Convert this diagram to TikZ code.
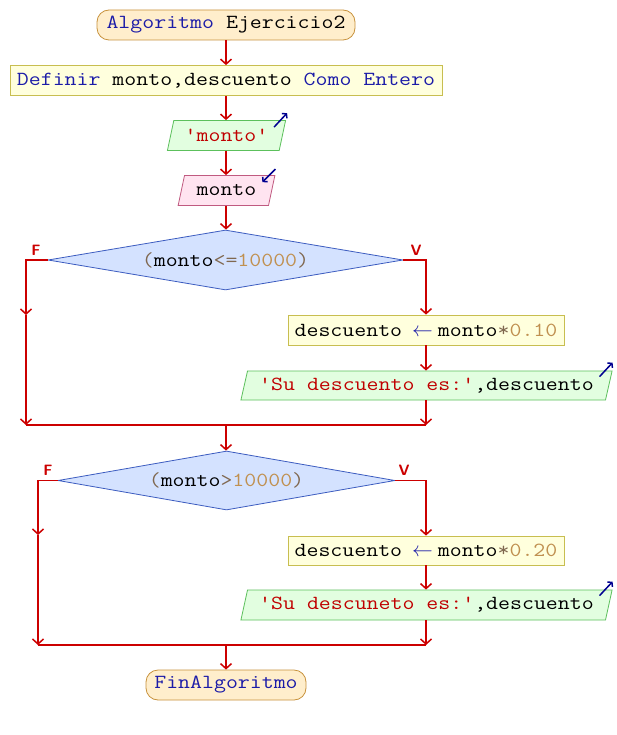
\documentclass[tikz,border=0pt]{standalone}
\usepackage{fontspec}
\setmonofont[FakeStretch=1.16]{Latin Modern Mono}
\usetikzlibrary{shapes.geometric,arrows.meta,calc}
\definecolor{flowred}{HTML}{CC0000}
\definecolor{termfill}{HTML}{FFEECC}
\definecolor{termdraw}{HTML}{C8923C}
\definecolor{procfill}{HTML}{FFFFDD}
\definecolor{procdraw}{HTML}{C8BE50}
\definecolor{outfill}{HTML}{E2FEE0}
\definecolor{outdraw}{HTML}{5CC05C}
\definecolor{infill}{HTML}{FFE4F0}
\definecolor{indraw}{HTML}{C05A80}
\definecolor{decfill}{HTML}{D4E2FF}
\definecolor{decdraw}{HTML}{3C5CC0}
\definecolor{kwcol}{HTML}{1C1CA8}
\definecolor{strcol}{HTML}{C00000}
\definecolor{numcol}{HTML}{C09050}
\definecolor{opcol}{HTML}{806850}
\definecolor{iocol}{HTML}{000090}
\newcommand{\asg}{\hspace{10pt}\textcolor{kwcol}{$\leftarrow$}\hspace{5pt}}
\begin{document}
\begin{tikzpicture}[x=1pt,y=-1pt,
  code/.style={font=\ttfamily\fontsize{20}{20}\selectfont, inner sep=0pt},
  term/.style={code, draw=termdraw, fill=termfill, rounded corners=12pt, minimum height=30pt, line width=0.8pt},
  proc/.style={code, draw=procdraw, fill=procfill, minimum height=29pt, line width=0.8pt},
  io/.style={code, trapezium, trapezium left angle=68, trapezium right angle=112, trapezium stretches=true, minimum height=29pt, line width=0.8pt},
  outbox/.style={io, draw=outdraw, fill=outfill},
  inbox/.style={io, draw=indraw, fill=infill},
  dec/.style={code, diamond, aspect=6, draw=decdraw, fill=decfill, line width=0.8pt},
  flow/.style={draw=flowred, line width=1.8pt, -{Straight Barb[length=5pt,width=11pt,line width=1.5pt]}},
  plain/.style={draw=flowred, line width=1.8pt},
  lab/.style={text=flowred, font=\sffamily\bfseries\fontsize{15}{15}\selectfont, inner sep=0pt},
  ioarrow/.style={draw=iocol, line width=1.5pt, -{Straight Barb[length=3pt,width=7pt]}},
]
\fill[white] (0,0) rectangle (616,735);
\path[use as bounding box] (0,0) rectangle (616,735);

\node[term, minimum width=258pt] (start) at (226,25) {\textcolor{kwcol}{Algoritmo} Ejercicio2};
\node[proc, minimum width=432pt, minimum height=30pt] (def) at (226,80.5) {\textcolor{kwcol}{Definir} monto,descuento \textcolor{kwcol}{Como Entero}};
\node[outbox, minimum width=119pt, minimum height=30pt] (out0) at (226.5,135.5) {\textcolor{strcol}{'monto'}};
\node[inbox, minimum width=97pt, minimum height=30pt] (in0) at (226.5,190.5) {monto};

\node[dec, minimum width=355pt, minimum height=60pt] (d1) at (225.5,260) {\textcolor{opcol}{(}monto\textcolor{opcol}{<=}\textcolor{numcol}{10000}\textcolor{opcol}{)}};
\node[proc, minimum width=276pt, minimum height=30pt] (a1) at (426,330) {descuento\asg monto\textcolor{opcol}{*}\textcolor{numcol}{0.10}};
\node[outbox, minimum width=373pt] (o1) at (426.5,385.5) {\textcolor{strcol}{'Su descuento es:'},descuento};

\node[dec, minimum width=337pt, minimum height=59pt] (d2) at (226.5,480.5) {\textcolor{opcol}{(}monto\textcolor{opcol}{>}\textcolor{numcol}{10000}\textcolor{opcol}{)}};
\node[proc, minimum width=276pt] (a2) at (426,550.5) {descuento\asg monto\textcolor{opcol}{*}\textcolor{numcol}{0.20}};
\node[outbox, minimum width=373pt, minimum height=30pt] (o2) at (426.5,605) {\textcolor{strcol}{'Su descuneto es:'},descuento};

\node[term, minimum width=160pt] (fin) at (226,685) {\textcolor{kwcol}{FinAlgoritmo}};

\node[lab] (f1) at (36,250) {F};
\node[lab] (v1) at (416,250) {V};
\node[lab] (f2) at (48,470) {F};
\node[lab] (v2) at (404,470) {V};

\coordinate (m1L) at (26,315);
\coordinate (j1L) at (26,425);
\coordinate (j1R) at (426,425);
\coordinate (j1) at (226,425);
\coordinate (m2L) at (38,535);
\coordinate (j2L) at (38,645);
\coordinate (j2R) at (426,645);
\coordinate (j2) at (226,645);

\draw[flow] (start.south) -- (start.south |- def.north);
\draw[flow] (def.south) -- (def.south |- out0.north);
\draw[flow] (def.south |- out0.south) -- (def.south |- in0.north);
\draw[flow] (def.south |- in0.south) -- (def.south |- d1.north);

\draw[flow] (d1.west) -| (m1L);
\draw[flow] (m1L) -- (j1L);
\draw[flow] (d1.east) -| (a1.north);
\draw[flow] (a1.south) -- (a1.south |- o1.north);
\draw[flow] (a1.south |- o1.south) -- (j1R);
\draw[plain] (j1L) -- (j1R);
\draw[flow] (j1) -- (j1 |- d2.north);

\draw[flow] (d2.west) -| (m2L);
\draw[flow] (m2L) -- (j2L);
\draw[flow] (d2.east) -| (a2.north);
\draw[flow] (a2.south) -- (a2.south |- o2.north);
\draw[flow] (a2.south |- o2.south) -- (j2R);
\draw[plain] (j2L) -- (j2R);
\draw[flow] (j2) -- (j2 |- fin.north);

\draw[ioarrow] ($(out0.top right corner)+(-12,7)$) -- ($(out0.top right corner)+(1,-7)$);
\draw[ioarrow] ($(in0.top right corner)+(0,-6)$) -- ($(in0.top right corner)+(-13,7)$);
\draw[ioarrow] ($(o1.top right corner)+(-13,6)$) -- ($(o1.top right corner)+(0,-8)$);
\draw[ioarrow] ($(o2.top right corner)+(-13,6)$) -- ($(o2.top right corner)+(0,-8)$);
\end{tikzpicture}
\end{document}
